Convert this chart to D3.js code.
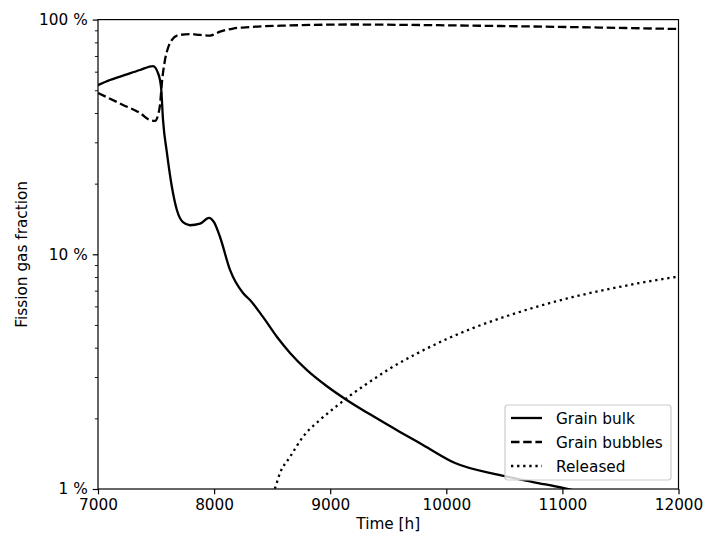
<!DOCTYPE html>
<html>
<head>
<meta charset="utf-8">
<script src="https://cdn.jsdelivr.net/npm/d3@7/dist/d3.min.js"></script>
<style>
  html, body { margin: 0; padding: 0; background: #fff; }
  svg { display: block; font-family: "DejaVu Sans", sans-serif; }
</style>
</head>
<body>
<svg id="chart" width="703" height="536"></svg>
<script>
// ---- data (time in h, fraction in %) ----
const bulkTime = [7000, 7103, 7233, 7362, 7474, 7517, 7543, 7560, 7594, 7637, 7680, 7732, 7792, 7879, 7956, 7999, 8051, 8137, 8249, 8309, 8421, 8542, 8654, 8800, 8972, 9145, 9343, 9601, 9799, 10075, 10462, 10747, 11005, 11200];
const bulkValue = [52.6, 55.3, 58.1, 61.0, 63.4, 59.2, 51.6, 37.4, 27.0, 19.3, 15.4, 13.7, 13.3, 13.5, 14.3, 13.7, 11.85, 8.58, 6.84, 6.39, 5.41, 4.44, 3.80, 3.21, 2.74, 2.39, 2.08, 1.75, 1.54, 1.29, 1.147, 1.071, 1.01, 0.96];

const bubblesTime = [7000, 7215, 7362, 7448, 7491, 7517, 7534, 7551, 7577, 7603, 7637, 7680, 7792, 7879, 7965, 8051, 8163, 8309, 8654, 9170, 9601, 10462, 11323, 12000];
const bubblesValue = [48.7, 43.3, 40.0, 37.3, 37.0, 39.2, 43.3, 54.2, 67.3, 75.7, 81.9, 85.5, 86.8, 86.0, 85.5, 88.8, 91.6, 93.0, 94.4, 95.3, 95.0, 93.9, 92.5, 91.2];

const releasedTime = [8480, 8525, 8568, 8654, 8766, 8912, 9058, 9171, 9317, 9515, 9748, 10006, 10230, 10523, 10807, 11091, 11384, 11668, 12000];
const releasedValue = [0.9, 1.01, 1.17, 1.37, 1.67, 1.97, 2.26, 2.50, 2.81, 3.26, 3.78, 4.36, 4.85, 5.46, 6.03, 6.58, 7.08, 7.55, 8.04];

const xTicks = [7000, 8000, 9000, 10000, 11000, 12000];
const yTicks = [1, 10, 100];
const yTickLabels = ["1 %", "10 %", "100 %"];
const seriesNames = ["Grain bulk", "Grain bubbles", "Released"];

// ---- layout ----
const L = 98, R = 678.5, T = 19.6, B = 489;
const svg = d3.select("#chart");
const x = d3.scaleLinear().domain([7000, 12000]).range([L, R]);
const y = d3.scaleLog().domain([1, 100]).range([B, T]);

const styles = [
  { dash: null },
  { dash: "8.5,3.7" },
  { dash: "2.3,3.8" }
];

svg.append("defs").append("clipPath").attr("id", "clip")
  .append("rect").attr("x", L).attr("y", T).attr("width", R - L).attr("height", B - T);

const line = d3.line().x(d => x(d[0])).y(d => y(d[1])).curve(d3.curveMonotoneX);
const series = [
  d3.zip(bulkTime, bulkValue),
  d3.zip(bubblesTime, bubblesValue),
  d3.zip(releasedTime, releasedValue)
];

const g = svg.append("g").attr("clip-path", "url(#clip)");
series.forEach((s, i) => {
  g.append("path").datum(s)
    .attr("d", line)
    .attr("fill", "none")
    .attr("stroke", "#000")
    .attr("stroke-width", 2.3)
    .attr("stroke-linejoin", "round")
    .attr("stroke-linecap", styles[i].dash ? "butt" : "square")
    .attr("stroke-dasharray", styles[i].dash);
});

// ---- axes ----
const fs = 15.3;
const xAxis = d3.axisBottom(x).tickValues(xTicks).tickFormat(d3.format("d")).tickSize(5.3).tickPadding(5);
const gx = svg.append("g").attr("transform", `translate(0,${B})`).call(xAxis);
gx.select(".domain").remove();
gx.selectAll("text").attr("font-size", fs).attr("font-family", "DejaVu Sans").attr("fill", "#000");
gx.selectAll("line").attr("stroke", "#000").attr("stroke-width", 1.2);

const minorVals = [];
for (const dec of [1, 10]) for (let k = 2; k <= 9; k++) minorVals.push(dec * k);
const yMinor = d3.axisLeft(y).tickValues(minorVals).tickFormat("").tickSize(3.1);
const gym = svg.append("g").attr("transform", `translate(${L},0)`).call(yMinor);
gym.select(".domain").remove();
gym.selectAll("line").attr("stroke", "#000").attr("stroke-width", 0.9);

const yAxis = d3.axisLeft(y).tickValues(yTicks).tickFormat((d, i) => yTickLabels[i]).tickSize(5.3).tickPadding(5);
const gy = svg.append("g").attr("transform", `translate(${L},0)`).call(yAxis);
gy.select(".domain").remove();
gy.selectAll("text").attr("font-size", fs).attr("font-family", "DejaVu Sans").attr("fill", "#000");
gy.selectAll("line").attr("stroke", "#000").attr("stroke-width", 1.2);

// frame
svg.append("rect").attr("x", L).attr("y", T).attr("width", R - L).attr("height", B - T)
  .attr("fill", "none").attr("stroke", "#000").attr("stroke-width", 1.2);

// labels
svg.append("text").attr("x", (L + R) / 2).attr("y", 529).attr("text-anchor", "middle")
  .attr("font-size", fs).attr("fill", "#000").text("Time [h]");
svg.append("text").attr("transform", `translate(27,${(T + B) / 2}) rotate(-90)`)
  .attr("text-anchor", "middle").attr("font-size", fs).attr("fill", "#000").text("Fission gas fraction");

// legend
const lg = svg.append("g");
lg.append("rect").attr("x", 505).attr("y", 405).attr("width", 166).attr("height", 75)
  .attr("rx", 3).attr("fill", "#fff").attr("fill-opacity", 0.8)
  .attr("stroke", "#ccc").attr("stroke-width", 1.2);
seriesNames.forEach((name, i) => {
  const yy = 418 + i * 24;
  lg.append("line").attr("x1", 511).attr("x2", 542).attr("y1", yy).attr("y2", yy)
    .attr("stroke", "#000").attr("stroke-width", 2.3)
    .attr("stroke-dasharray", styles[i].dash);
  lg.append("text").attr("x", 556).attr("y", yy).attr("dy", "0.36em")
    .attr("font-size", fs).attr("fill", "#000").text(name);
});
</script>
</body>
</html>
